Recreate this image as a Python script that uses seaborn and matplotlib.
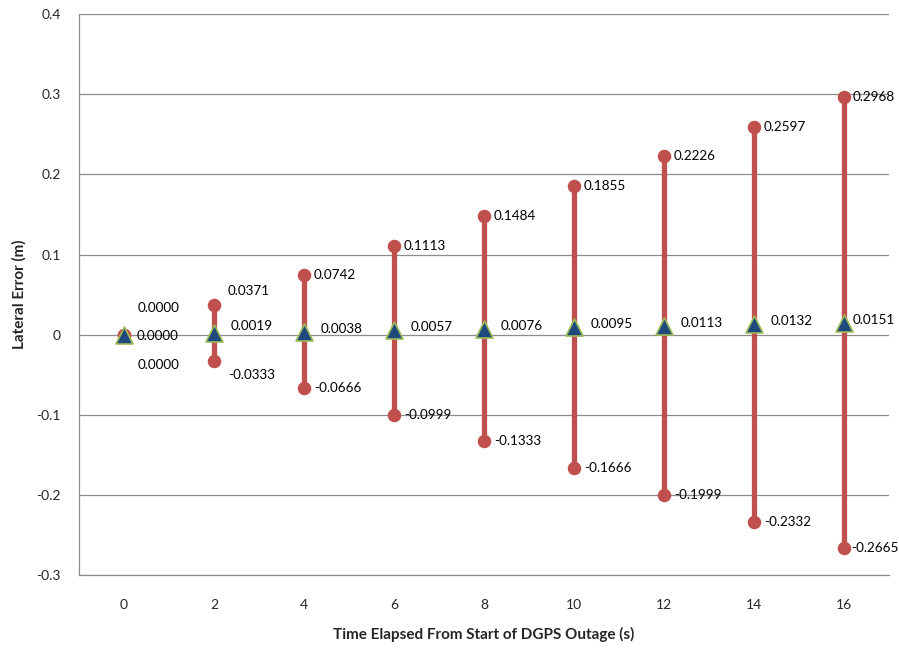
import matplotlib
matplotlib.use("Agg")
import matplotlib.pyplot as plt
import seaborn as sns
import pandas as pd

time_s = [0, 2, 4, 6, 8, 10, 12, 14, 16]
upper = [0.0000, 0.0371, 0.0742, 0.1113, 0.1484, 0.1855, 0.2226, 0.2597, 0.2968]
mean = [0.0000, 0.0019, 0.0038, 0.0057, 0.0076, 0.0095, 0.0113, 0.0132, 0.0151]
lower = [0.0000, -0.0333, -0.0666, -0.0999, -0.1333, -0.1666, -0.1999, -0.2332, -0.2665]
y_ticks = [-0.3, -0.2, -0.1, 0, 0.1, 0.2, 0.3, 0.4]
y_tick_labels = ["-0.3", "-0.2", "-0.1", "0", "0.1", "0.2", "0.3", "0.4"]

df = pd.DataFrame({"t": time_s, "upper": upper, "mean": mean, "lower": lower})

sns.set_theme(style="white")
plt.rcParams["font.family"] = ["Lato", "DejaVu Sans"]

fig = plt.figure(figsize=(8.99, 6.49), dpi=100)
ax = fig.add_axes([0.0879, 0.114, 0.9011, 0.864])

red = "#C0504D"
ax.vlines(df["t"], df["lower"], df["upper"], color=red, lw=3.8, zorder=2)
ends = pd.concat([df[["t", "upper"]].rename(columns={"upper": "v"}),
                  df[["t", "lower"]].rename(columns={"lower": "v"})])
sns.scatterplot(data=ends, x="t", y="v", ax=ax, color=red, s=95, marker="o",
                edgecolor=red, linewidth=0, zorder=3, legend=False)
sns.scatterplot(data=df, x="t", y="mean", ax=ax, color="#1F497D", s=150, marker="^",
                edgecolor="#9BBB59", linewidth=1.2, zorder=4, legend=False)

# label offsets in points (dx, dy) for upper, mean, lower
off_upper = {0: (10, 19), 2: (10, 10), 16: (6, 0)}
off_mean = {0: (9, -1), 2: (12, 5), 16: (6, 2)}
off_lower = {0: (10, -22), 2: (10, -10), 16: (5, 0)}
fs = 9.7
for t, u, m, l in zip(time_s, upper, mean, lower):
    ax.annotate(f"{u:.4f}", (t, u), xytext=off_upper.get(t, (7, 0)), textcoords="offset points",
                ha="left", va="center", fontsize=fs, color="black")
    ax.annotate(f"{m:.4f}", (t, m), xytext=off_mean.get(t, (12, 2)), textcoords="offset points",
                ha="left", va="center", fontsize=fs, color="black")
    ax.annotate(f"{l:.4f}", (t, l), xytext=off_lower.get(t, (7, 0)), textcoords="offset points",
                ha="left", va="center", fontsize=fs, color="black")

ax.set_xlim(-1, 17)
ax.set_ylim(-0.3, 0.4)
ax.set_xticks(time_s)
ax.set_xticklabels([str(t) for t in time_s], fontsize=10)
ax.set_yticks(y_ticks)
ax.set_yticklabels(y_tick_labels, fontsize=10)
ax.tick_params(axis="x", length=0, pad=17)
ax.tick_params(axis="y", length=0, pad=13)
ax.grid(axis="y", color="#8C8C8C", lw=0.9)
ax.set_axisbelow(True)
for s in ["top", "right"]:
    ax.spines[s].set_visible(False)
for s in ["left", "bottom"]:
    ax.spines[s].set_color("#8C8C8C")
    ax.spines[s].set_linewidth(0.9)

ax.set_xlabel("Time Elapsed From Start of DGPS Outage (s)", fontsize=11, fontweight="bold", labelpad=12)
ax.set_ylabel("Lateral Error (m)", fontsize=11, fontweight="bold", labelpad=7)

fig.savefig("out.png", dpi=100)
